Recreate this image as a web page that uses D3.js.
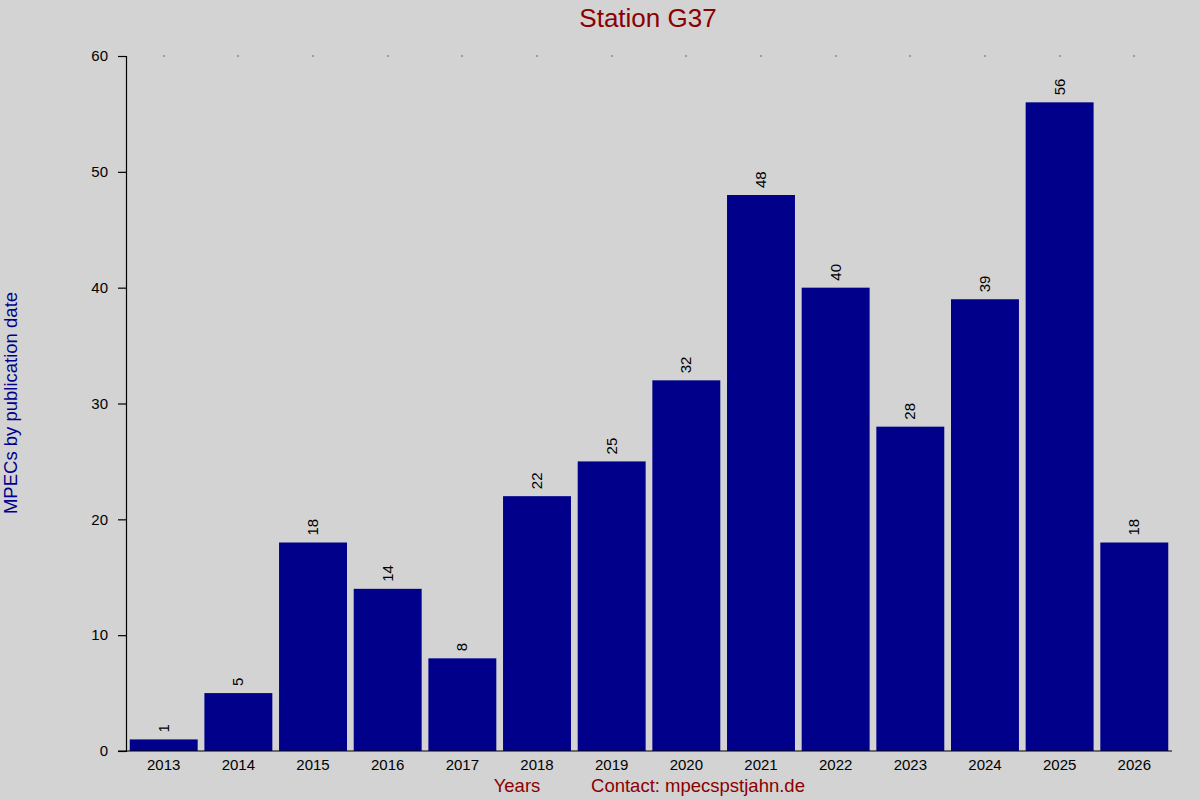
<!DOCTYPE html>
<html>
<head>
<meta charset="utf-8">
<script src="https://cdn.jsdelivr.net/npm/d3@7"></script>
<style>
  body { margin: 0; background: #d3d3d3; }
  svg { display: block; font-family: "Liberation Sans", Arial, sans-serif; }
</style>
</head>
<body>
<div id="chart"></div>
<script>
const years = ['2013','2014','2015','2016','2017','2018','2019','2020','2021','2022','2023','2024','2025','2026'];
const counts = [1, 5, 18, 14, 8, 22, 25, 32, 48, 40, 28, 39, 56, 18];
const yTicks = [0, 10, 20, 30, 40, 50, 60];

const width = 1200, height = 800;
const margin = { top: 56, right: 28, bottom: 49, left: 126 };

const svg = d3.select('#chart').append('svg')
  .attr('width', width)
  .attr('height', height);

svg.append('rect').attr('width', width).attr('height', height).attr('fill', '#d3d3d3');

const x = d3.scaleBand()
  .domain(years)
  .range([margin.left, width - margin.right])
  .paddingInner(0.09)
  .paddingOuter(0.05);

const y = d3.scaleLinear()
  .domain([0, 60])
  .range([height - margin.bottom, margin.top]);

// Bars
svg.selectAll('rect.bar')
  .data(years)
  .enter()
  .append('rect')
  .attr('class', 'bar')
  .attr('x', d => x(d))
  .attr('width', x.bandwidth())
  .attr('y', (d, i) => y(counts[i]))
  .attr('height', (d, i) => y(0) - y(counts[i]))
  .attr('fill', '#00008b');

// Value labels, rotated
svg.selectAll('text.val')
  .data(years)
  .enter()
  .append('text')
  .attr('class', 'val')
  .attr('transform', (d, i) => `translate(${x(d) + x.bandwidth() / 2 + 5},${y(counts[i]) - 7}) rotate(-90)`)
  .attr('font-size', 15)
  .attr('fill', '#000')
  .text((d, i) => counts[i]);

// Small dots along the top at band centres
svg.selectAll('rect.dot')
  .data(years)
  .enter()
  .append('rect')
  .attr('class', 'dot')
  .attr('x', d => Math.round(x(d) + x.bandwidth() / 2) - 0.5)
  .attr('y', margin.top - 0.5)
  .attr('width', 1)
  .attr('height', 1)
  .attr('fill', '#000');

// Y axis
const yAxis = svg.append('g')
  .attr('transform', `translate(${margin.left},0)`)
  .call(d3.axisLeft(y).tickValues(yTicks).tickSize(8).tickPadding(10));
yAxis.select('.domain').attr('stroke', '#000').attr('stroke-width', 1.2);
yAxis.selectAll('.tick line').attr('stroke', '#000').attr('stroke-width', 1.2);
yAxis.selectAll('.tick text').attr('font-size', 15).attr('fill', '#000')
  .attr('font-family', '"Liberation Sans", Arial, sans-serif');

// X axis
const xAxis = svg.append('g')
  .attr('transform', `translate(0,${y(0)})`)
  .call(d3.axisBottom(x).tickSize(0).tickPadding(8));
xAxis.select('.domain').remove();
xAxis.selectAll('.tick text').attr('font-size', 15).attr('fill', '#000')
  .attr('font-family', '"Liberation Sans", Arial, sans-serif');
svg.append('line')
  .attr('x1', margin.left - 8).attr('x2', width - margin.right)
  .attr('y1', y(0)).attr('y2', y(0))
  .attr('stroke', '#000').attr('stroke-width', 1.2);

// Title
svg.append('text')
  .attr('x', 648).attr('y', 27)
  .attr('text-anchor', 'middle')
  .attr('font-size', 26)
  .attr('fill', '#8b0000')
  .text('Station G37');

// X labels
svg.append('text')
  .attr('x', 517).attr('y', 792)
  .attr('text-anchor', 'middle')
  .attr('font-size', 18.5)
  .attr('fill', '#8b0000')
  .text('Years');
svg.append('text')
  .attr('x', 698).attr('y', 792)
  .attr('text-anchor', 'middle')
  .attr('font-size', 18.5)
  .attr('fill', '#8b0000')
  .text('Contact: mpecspstjahn.de');

// Y label
svg.append('text')
  .attr('transform', 'translate(12,403) rotate(-90)')
  .attr('text-anchor', 'middle')
  .attr('dominant-baseline', 'middle')
  .attr('font-size', 18.5)
  .attr('fill', '#00008b')
  .text('MPECs by publication date');
</script>
</body>
</html>
